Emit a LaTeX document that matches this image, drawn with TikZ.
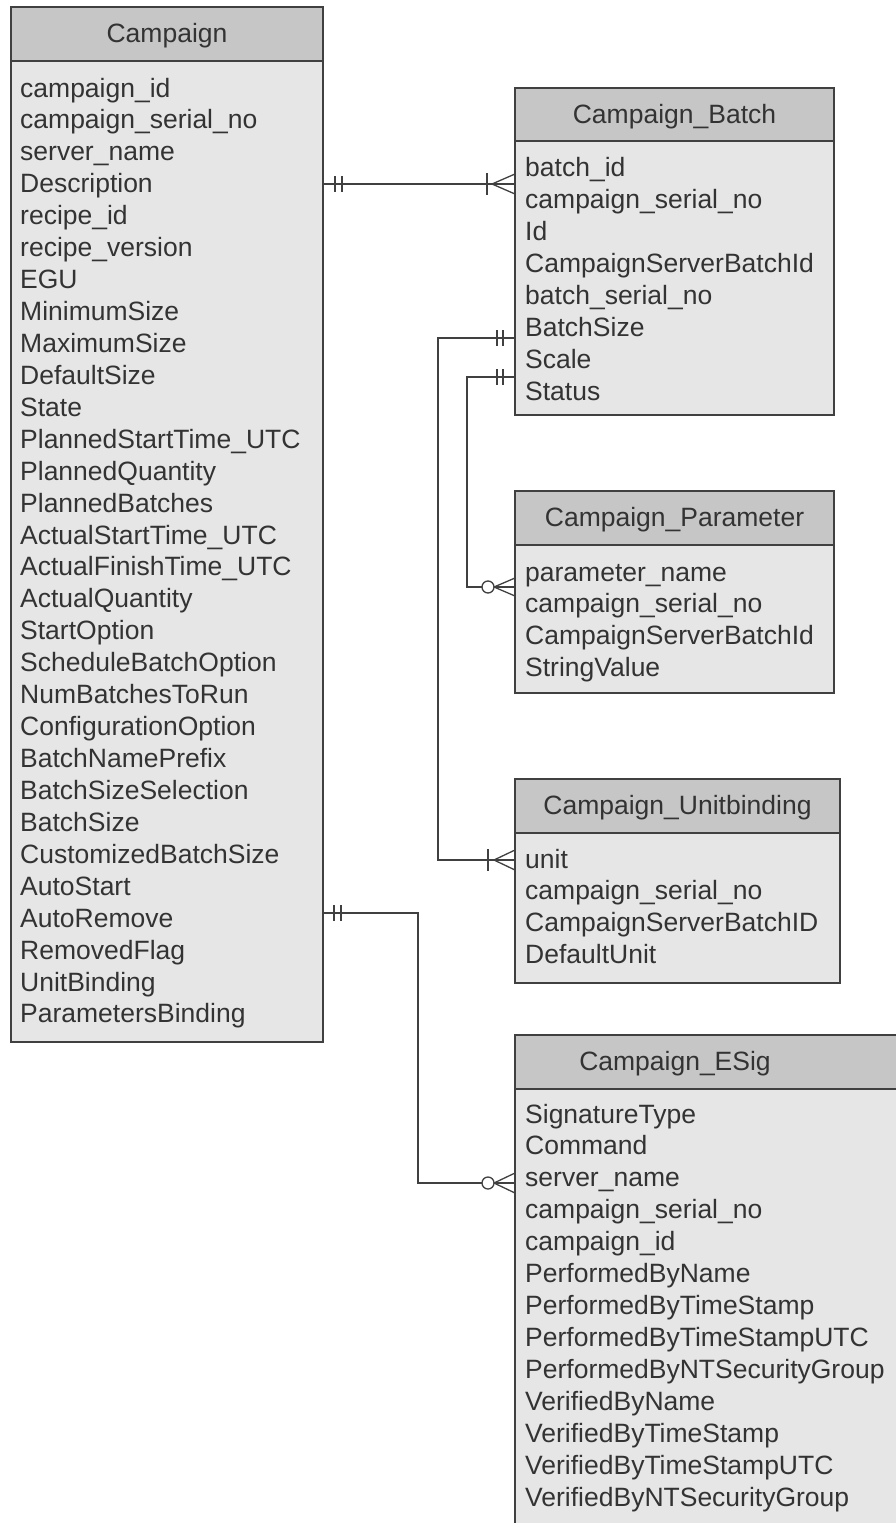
\documentclass[tikz,border=0pt]{standalone}
\usepackage{fontspec}
\setmainfont{Liberation Sans}
\definecolor{lc}{HTML}{404040}
\definecolor{headc}{HTML}{C6C6C6}
\definecolor{bodyc}{HTML}{E6E6E6}
\definecolor{txtc}{HTML}{333333}
\begin{document}
\begin{tikzpicture}[x=1pt,y=-1pt,
  body/.style={draw=lc, line width=1.3pt, fill=bodyc, rectangle, inner sep=0pt, outer sep=0pt, anchor=north west},
  head/.style={draw=lc, line width=1.3pt, fill=headc, rectangle, inner sep=0pt, outer sep=0pt, anchor=north west},
  sep/.style={draw=lc, line width=2pt},
  row/.style={anchor=base west, inner sep=0pt, text=txtc, font=\fontsize{26.5}{32}\selectfont},
  title/.style={anchor=base, inner sep=0pt, text=txtc, font=\fontsize{26.5}{32}\selectfont},
  rel/.style={draw=lc, line width=1.3pt},
  ring/.style={draw=lc, line width=1.3pt, fill=white}]
\clip (0,0) rectangle (896,1523);
\fill[white] (0,0) rectangle (896,1523);

% ---------- Campaign ----------
\node[body, minimum width=312pt, minimum height=1035pt] (campaign) at (11,7) {};
\node[head, minimum width=312pt, minimum height=54pt] (campaign-h) at (11,7) {};
\draw[sep] (campaign-h.south west) -- (campaign-h.south east);
\node[title] (campaign-t) at (167,42) {Campaign};
\foreach \t [count=\i from 0] in {campaign\_id, campaign\_serial\_no, server\_name, Description, recipe\_id, recipe\_version, EGU, MinimumSize, MaximumSize, DefaultSize, State, PlannedStartTime\_UTC, PlannedQuantity, PlannedBatches, ActualStartTime\_UTC, ActualFinishTime\_UTC, ActualQuantity, StartOption, ScheduleBatchOption, NumBatchesToRun, ConfigurationOption, BatchNamePrefix, BatchSizeSelection, BatchSize, CustomizedBatchSize, AutoStart, AutoRemove, RemovedFlag, UnitBinding, ParametersBinding}
  \node[row] (cam-\i) at (20,{97+\i*31.93}) {\t};

% ---------- Campaign_Batch ----------
\node[body, minimum width=319pt, minimum height=327pt] (batch) at (515,88) {};
\node[head, minimum width=319pt, minimum height=53pt] (batch-h) at (515,88) {};
\draw[sep] (batch-h.south west) -- (batch-h.south east);
\node[title] (batch-t) at (674.5,123) {Campaign\_Batch};
\foreach \t [count=\i from 0] in {batch\_id, campaign\_serial\_no, Id, CampaignServerBatchId, batch\_serial\_no, BatchSize, Scale, Status}
  \node[row] (bat-\i) at (525,{176.5+\i*31.93}) {\t};

% ---------- Campaign_Parameter ----------
\node[body, minimum width=319pt, minimum height=202pt] (param) at (515,491) {};
\node[head, minimum width=319pt, minimum height=54pt] (param-h) at (515,491) {};
\draw[sep] (param-h.south west) -- (param-h.south east);
\node[title] (param-t) at (674.5,526) {Campaign\_Parameter};
\foreach \t [count=\i from 0] in {parameter\_name, campaign\_serial\_no, CampaignServerBatchId, StringValue}
  \node[row] (par-\i) at (525,{581+\i*31.93}) {\t};

% ---------- Campaign_Unitbinding ----------
\node[body, minimum width=325pt, minimum height=204pt] (unitb) at (515,779) {};
\node[head, minimum width=325pt, minimum height=54pt] (unitb-h) at (515,779) {};
\draw[sep] (unitb-h.south west) -- (unitb-h.south east);
\node[title] (unitb-t) at (677.5,814) {Campaign\_Unitbinding};
\foreach \t [count=\i from 0] in {unit, campaign\_serial\_no, CampaignServerBatchID, DefaultUnit}
  \node[row] (uni-\i) at (525,{868+\i*31.93}) {\t};

% ---------- Campaign_ESig ----------
\node[body, minimum width=400pt, minimum height=600pt] (esig) at (515,1035) {};
\node[head, minimum width=400pt, minimum height=54pt] (esig-h) at (515,1035) {};
\draw[sep] (esig-h.south west) -- (esig-h.south east);
\node[title] (esig-t) at (675,1070) {Campaign\_ESig};
\foreach \t [count=\i from 0] in {SignatureType, Command, server\_name, campaign\_serial\_no, campaign\_id, PerformedByName, PerformedByTimeStamp, PerformedByTimeStampUTC, PerformedByNTSecurityGroup, VerifiedByName, VerifiedByTimeStamp, VerifiedByTimeStampUTC, VerifiedByNTSecurityGroup}
  \node[row] (esi-\i) at (525,{1123+\i*31.93}) {\t};

% ---------- connector end points ----------
\coordinate (a1) at (323,184);
\coordinate (a2) at (515,184);
\coordinate (b1) at (515,338);
\coordinate (bx) at (438,600);
\coordinate (b2) at (515,860);
\coordinate (c1) at (515,377);
\coordinate (cx) at (467,480);
\coordinate (c2) at (515,587);
\coordinate (d1) at (323,913);
\coordinate (dx) at (418,1000);
\coordinate (d2) at (515,1183);

% A: Campaign -> Campaign_Batch (one to one-or-many)
\draw[rel] (a1) -- (a2);
\draw[rel] ([xshift=12pt]a1) ++(0,-8) -- ++(0,16);
\draw[rel] ([xshift=19pt]a1) ++(0,-8) -- ++(0,16);
\draw[rel] ([xshift=-28pt]a2) ++(0,-11) -- ++(0,22);
\draw[rel] ([xshift=-23pt]a2) -- ++(23,-10);
\draw[rel] ([xshift=-23pt]a2) -- ++(23,10);

% B: Campaign_Batch -> Campaign_Unitbinding (one to one-or-many)
\draw[rel] (b1) -| (bx) |- (b2);
\draw[rel] ([xshift=-18pt]b1) ++(0,-8) -- ++(0,16);
\draw[rel] ([xshift=-12pt]b1) ++(0,-8) -- ++(0,16);
\draw[rel] ([xshift=-27pt]b2) ++(0,-11) -- ++(0,22);
\draw[rel] ([xshift=-21pt]b2) -- ++(21,-10);
\draw[rel] ([xshift=-21pt]b2) -- ++(21,10);

% C: Campaign_Batch -> Campaign_Parameter (one to zero-or-many)
\draw[rel] (c1) -| (cx) |- (c2);
\draw[rel] ([xshift=-18pt]c1) ++(0,-8) -- ++(0,16);
\draw[rel] ([xshift=-12pt]c1) ++(0,-8) -- ++(0,16);
\draw[rel] ([xshift=-21pt]c2) -- ++(21,-9);
\draw[rel] ([xshift=-21pt]c2) -- ++(21,9);
\draw[ring] ([xshift=-27pt]c2) circle (6pt);

% D: Campaign -> Campaign_ESig (one to zero-or-many)
\draw[rel] (d1) -| (dx) |- (d2);
\draw[rel] ([xshift=11pt]d1) ++(0,-8) -- ++(0,16);
\draw[rel] ([xshift=18pt]d1) ++(0,-8) -- ++(0,16);
\draw[rel] ([xshift=-21pt]d2) -- ++(21,-10);
\draw[rel] ([xshift=-21pt]d2) -- ++(21,10);
\draw[ring] ([xshift=-27pt]d2) circle (6pt);
\end{tikzpicture}
\end{document}
